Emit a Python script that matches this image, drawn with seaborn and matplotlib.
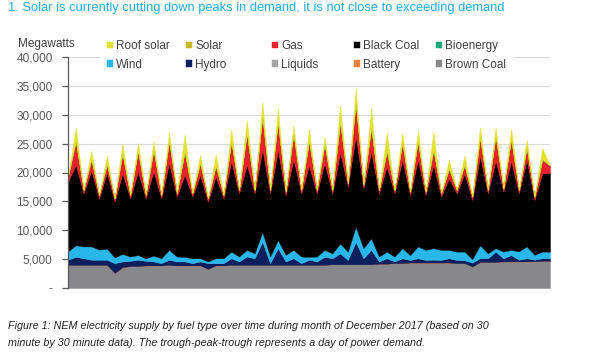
import matplotlib
matplotlib.use("Agg")
import matplotlib.pyplot as plt
import matplotlib.ticker as mtick
from matplotlib.patches import Rectangle
import seaborn as sns
import pandas as pd

# Half-hourly data is far too dense to read off the picture, so each day is
# kept as its overnight trough (00:00) and its afternoon peak (12:00), in MW.
# "_night" lists have 32 values (31 days + the last point), "_day" lists 31.
brown_night = [4000, 4000, 4000, 2600, 3800, 3900, 3900, 3900, 3900, 3300,
               3900, 4000, 4000, 4000, 4000, 4000, 4000, 4100, 4100, 4100,
               4200, 4300, 4400, 4400, 4400, 4300, 3700, 4500, 4600, 4600,
               4600, 4700]
brown_day = [4000, 4000, 4000, 3600, 3800, 3900, 4000, 3900, 3900, 3900,
             4000, 4000, 4000, 4000, 4000, 4000, 4000, 4100, 4100, 4100,
             4200, 4300, 4400, 4400, 4400, 4300, 4500, 4500, 4600, 4600,
             4700]

hydro_night = [900, 1150, 900, 1700, 900, 800, 400, 700, 400, 1000,
               400, 600, 1150, 300, 600, 300, 600, 1050, 750, 1050,
               400, 300, 450, 450, 450, 550, 700, 650, 550, 300,
               300, 450]
hydro_day = [1400, 900, 900, 1000, 1100, 700, 900, 700, 700, 400,
             1150, 1450, 4000, 2900, 1150, 900, 1400, 1900, 3900, 2500,
             950, 850, 750, 500, 750, 500, 650, 1800, 1100, 550,
             450]

wind_night = [1450, 2050, 1750, 1000, 750, 450, 850, 850, 850, 300,
              850, 850, 850, 1150, 1150, 1150, 850, 850, 1450, 1750,
              850, 850, 850, 1750, 1750, 1450, 600, 850, 1150, 1450,
              850, 1150]
wind_day = [2000, 2300, 1900, 1300, 800, 1000, 1700, 800, 550, 850,
            1150, 1150, 1700, 1400, 1450, 500, 1200, 1700, 2600, 2000,
            1150, 1750, 2050, 2000, 1450, 1500, 2250, 600, 900, 2050,
            1150]

black_night = [12100, 9200, 8900, 9650, 10100, 10400, 10400, 10400, 10700, 10350,
               10400, 10950, 10400, 10950, 10350, 10950, 10950, 10400, 11250, 10400,
               10950, 10950, 10400, 9500, 9250, 10100, 10250, 10400, 10400, 10050,
               9500, 13600]
black_day = [13950, 13150, 13200, 14000, 14500, 14600, 15050, 14200, 14450, 14200,
             15650, 14750, 14300, 15600, 15700, 15800, 15050, 15800, 15800, 15050,
             14750, 15300, 15000, 14450, 12400, 13500, 15450, 15200, 15350, 15000,
             13600]

gas_night = [850, 600, 600, 600, 600, 600, 600, 600, 600, 600,
             600, 600, 600, 600, 600, 600, 600, 600, 600, 600,
             600, 600, 600, 600, 600, 600, 600, 600, 600, 600,
             600, 1300]
gas_day = [4050, 1850, 1400, 3350, 3450, 3650, 3750, 3900, 2000, 1750,
           3350, 5350, 5750, 4750, 4400, 4200, 3200, 5200, 5650, 4050,
           2600, 2900, 3200, 2500, 1600, 1500, 3150, 4150, 3750, 2050,
           2300]

# no sun at the overnight trough
solar_day = [200, 200, 200, 200, 200, 200, 200, 250, 200, 200,
             250, 250, 250, 250, 200, 200, 200, 250, 250, 300,
             300, 200, 200, 300, 150, 150, 200, 200, 200, 200,
             200]
roof_day = [2250, 1350, 1300, 1550, 1250, 1350, 1350, 2800, 1250, 1850,
            1900, 2100, 2200, 2100, 1250, 1850, 1150, 2650, 2200, 3000,
            2900, 1550, 1650, 2850, 1450, 1550, 1650, 1350, 1650, 1250,
            1850]

labels = ["Brown Coal", "Liquids", "Battery", "Hydro", "Wind", "Black Coal",
          "Gas", "Bioenergy", "Solar", "Roof solar"]
colors = ["#88888c", "#a6a6a6", "#f0803c", "#0b1f5e", "#29b6e8", "#000000",
          "#e8212b", "#1fa67a", "#c9b92a", "#e3e02e"]
# legend columns, top row then bottom row
legend_cols = [("Roof solar", "Wind"), ("Solar", "Hydro"), ("Gas", "Liquids"),
               ("Black Coal", "Battery"), ("Bioenergy", "Brown Coal")]
legend_x = [107, 186, 272, 354, 436]

title = "1. Solar is currently cutting down peaks in demand, it is not close to exceeding demand"
caption = ["Figure 1: NEM electricity supply by fuel type over time during month of December 2017 (based on 30",
           "minute by 30 minute data). The trough-peak-trough represents a day of power demand."]


def interleave(night, day):
    out = []
    for n, d in zip(night, day):
        out += [n, d]
    return out + [night[-1]]


times = pd.date_range("2017-12-01", periods=63, freq="12h")
zero_night = [0] * 32
# bioenergy, liquids and battery are too small to see at this scale
tiny = [0] * len(times)

stack = [
    interleave(brown_night, brown_day),
    tiny,
    tiny,
    interleave(hydro_night, hydro_day),
    interleave(wind_night, wind_day),
    interleave(black_night, black_day),
    interleave(gas_night, gas_day),
    tiny,
    interleave(zero_night, solar_day),
    interleave(zero_night, roof_day),
]

sns.set_theme(style="white")
plt.rcParams["font.family"] = ["Liberation Sans", "DejaVu Sans"]

fig = plt.figure(figsize=(6, 3.63), dpi=100)
ax = fig.add_axes([68 / 600, 75 / 363, 482 / 600, 231 / 363])

polys = ax.stackplot(times, *stack, labels=labels, colors=colors,
                     linewidth=0.3)
for p, c in zip(polys, colors):
    p.set_edgecolor(c)

ax.set_xlim(times[0], times[-1])
ax.set_ylim(0, 40000)
ax.set_xticks([])
ax.yaxis.set_major_locator(mtick.MultipleLocator(5000))
ax.yaxis.set_major_formatter(
    mtick.FuncFormatter(lambda v, _: "-" if v == 0 else f"{v:,.0f}"))
ax.grid(axis="y", color="#d9d9d9", linewidth=0.8)
ax.set_axisbelow(True)

sns.despine(ax=ax, bottom=True)
ax.spines["left"].set_color("#595959")
ax.spines["left"].set_linewidth(0.9)
ax.tick_params(axis="y", left=True, length=4, width=0.9, color="#595959",
               labelsize=8.5, labelcolor="#595959", pad=7)

# white block behind the legend hides the top gridline, as in the original
fig.add_artist(Rectangle((100 / 600, 1 - 73 / 363), 413 / 600, 37 / 363,
                         transform=fig.transFigure, facecolor="white",
                         edgecolor="none", zorder=1))

handles = {p.get_label(): p for p in polys}
for col, x in zip(legend_cols, legend_x):
    fig.legend([handles[k] for k in col], list(col), loc="upper left",
               bbox_to_anchor=(x / 600, 1 - 40.2 / 363), frameon=False,
               fontsize=8.5, labelcolor="#404040", handlelength=0.5,
               handleheight=0.5, handletextpad=0.3, labelspacing=0.56,
               borderpad=0, borderaxespad=0)

fig.text(18 / 600, 1 - 44 / 363, "Megawatts", va="center", fontsize=8.5,
         color="#404040")
fig.text(8 / 600, 1 - 8 / 363, title, va="center", fontsize=9.3,
         color="#22ade6")
fig.text(8 / 600, 1 - 326 / 363, caption[0], va="center", fontsize=7.75,
         style="italic", color="#222222")
fig.text(8 / 600, 1 - 343 / 363, caption[1], va="center", fontsize=7.75,
         style="italic", color="#222222")

fig.savefig("out.png", dpi=100, facecolor="white")
